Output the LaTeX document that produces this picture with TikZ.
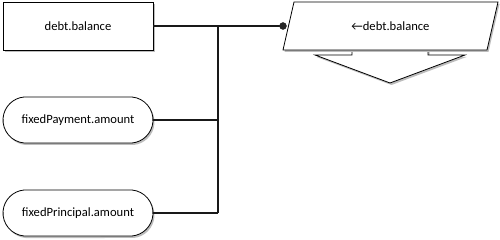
\documentclass[tikz,border=0pt]{standalone}
\usepackage{fontspec}
\setmainfont{Carlito}
\usepackage{tikz}
\usetikzlibrary{shapes.misc,shadows}
\definecolor{shadowgray}{HTML}{BDBDBD}

\tikzset{
  shade/.style={drop shadow={shadow xshift=1.5pt,shadow yshift=-2pt,fill=shadowgray,opacity=1}},
  box/.style={draw,line width=0.8pt,fill=white,minimum width=150pt,minimum height=48pt,
    inner sep=0pt,font=\fontsize{12.6}{14}\selectfont,shade},
  pill/.style={box,rounded rectangle,rounded rectangle arc length=170,minimum height=46pt},
  wire/.style={line width=2.3pt,black!90}
}

\begin{document}
\begin{tikzpicture}[x=1pt,y=-1pt]
    \useasboundingbox (0,0) rectangle (500,240);
    \node[box] (bal) at (78,26) {debt.balance};
    \node[pill] (pay) at (78,120) {fixedPayment.amount};
    \node[pill] (prin) at (78,213) {fixedPrincipal.amount};
    % output with arrow below
    \draw[line width=0.8pt,fill=white,shade]
      (352,50) -- (352,55) -- (315,55) -- (390,83) -- (465,55) -- (428,55) -- (428,50);
    \draw[line width=0.8pt,fill=white,shade]
      (294,2) -- (498,2) -- (487,50) -- (283,50) -- cycle;
    \node[font=\fontsize{12.6}{14}\selectfont] (res) at (390.5,26) {←debt.balance};
    \coordinate (bustop) at (218,26);
    \coordinate (busbot) at (218,213);
    \coordinate (tip) at (283,26);
    \draw[wire] (bal.east) -- (tip);
    \draw[wire] (bustop) -- (busbot);
    \draw[wire] (pay.east) -- (pay.east -| bustop);
    \draw[wire] (prin.east) -- (prin.east -| bustop);
    \filldraw[black!85] (tip) circle (3.5pt);
  \end{tikzpicture}
\end{document}
